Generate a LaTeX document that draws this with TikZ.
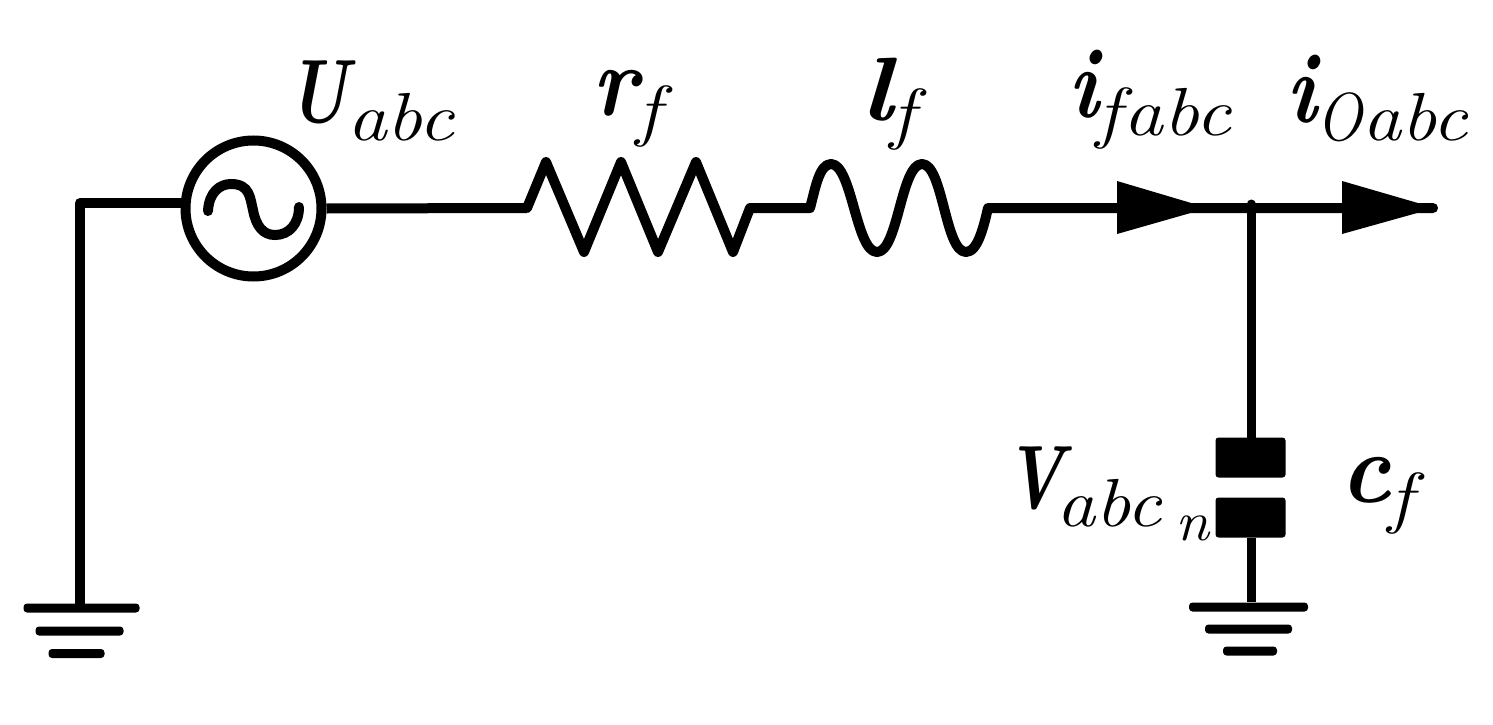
\documentclass[tikz,border=0pt]{standalone}
\usepackage{graphicx}
\usepackage{fontspec}
\newcommand{\lcap}[1]{\scalebox{.77}[1]{\fontsize{90}{90}\selectfont\bfseries\itshape #1}}
\newcommand{\llow}[2]{\scalebox{#1}[1]{\fontsize{100}{100}\selectfont\bfseries\itshape #2}}
\newcommand{\lsub}[3]{\raisebox{#2}{\scalebox{#1}[1]{\fontsize{68}{68}\selectfont\itshape #3}}}
\tikzset{
  wire/.style={line width=10pt,line cap=round,line join=round},
  lab/.style={inner sep=0pt,outer sep=0pt,anchor=base west},
  bar/.style={fill=black,rounded corners=3.5pt,inner sep=0pt,minimum height=9pt},
  plate/.style={fill=black,rounded corners=3pt,inner sep=0pt,minimum width=70pt,minimum height=40pt},
  tri/.style={fill=black}
}
\begin{document}
\begin{tikzpicture}[x=1pt,y=-1pt]
\useasboundingbox (0,0) rectangle (1493,725);
% coordinates
\coordinate (gl) at (80,203);
\coordinate (r0) at (527,208);
\coordinate (r7) at (750,208);
\coordinate (l0) at (810,208);
\coordinate (l5) at (988,208);
\coordinate (jt) at (1251,204);
\coordinate (e) at (1433,208);
% source
\node[circle,draw,line width=10pt,inner sep=0pt,minimum size=136pt] (src) at (253.5,208.5) {};
\draw[line width=10pt,line cap=round] (208,211) .. controls (209,192) and (220,184) .. (231,184) .. controls (250,184) and (250,198) .. (253,210) .. controls (256,226) and (263,235) .. (275,235) .. controls (289,235) and (299,224) .. (299,207);
% grounds
\node[bar,minimum width=116pt] (g1a) at (81.5,608) {};
\node[bar,minimum width=88pt] (g1b) at (79.5,631) {};
\node[bar,minimum width=56pt] (g1c) at (76.5,653.5) {};
\node[bar,minimum width=119pt] (g2a) at (1248.5,607) {};
\node[bar,minimum width=87pt] (g2b) at (1248.5,629) {};
\node[bar,minimum width=54pt] (g2c) at (1250,651) {};
% capacitor
\node[plate] (p1) at (1250.5,457.5) {};
\node[plate] (p2) at (1250.5,517.5) {};
% wires
\draw[wire] (g1a.north -| gl) -- (gl) -- (gl -| src.west);
\draw[wire,line cap=butt] (src.east) -- (r0);
\draw[wire] (r0) -- (546,162) -- (584,252) -- (621,162) -- (658,252) -- (696,162) -- (733,252) -- (r7) -- (l0);
\draw[wire] (l0) .. controls (815,190) and (819,164) .. (831,164) .. controls (852,164) and (856,252) .. (877,252) .. controls (898,252) and (901,164) .. (922,164) .. controls (943,164) and (945,252) .. (966,252) .. controls (978,252) and (984,225) .. (l5) -- (e);
\draw[line width=9pt,line cap=round] (jt) -- (p1.north -| jt);
\draw[line width=9pt] (p2.south -| jt) -- (g2a.north -| jt);
% arrowheads
\fill[tri] (1117,181) -- (1208,208) -- (1117,234) -- cycle;
\fill[tri] (1342,181) -- (1435,208) -- (1342,234) -- cycle;
% labels
\node[lab] (tU) at (287,122) {\lcap{U}\hspace{-1pt}\lsub{1.17}{-18pt}{abc}};
\node[lab] (tr) at (592,115) {\llow{.9}{r}\hspace{-1pt}\lsub{1.2}{-18pt}{f}};
\node[lab] (tl) at (860,120) {\scalebox{1.2}[1]{\fontsize{90}{90}\selectfont\bfseries\itshape l}\hspace{-2pt}\lsub{1.2}{-16pt}{f}};
\node[lab] (tif) at (1068,117) {\llow{.85}{i}\hspace{-2pt}\lsub{1.2}{-18pt}{f}\hspace{3pt}\lsub{1.17}{-18pt}{abc}};
\node[lab] (tio) at (1286,122) {\llow{.85}{i}\hspace{0pt}\lsub{.9}{-18pt}{O}\hspace{0pt}\lsub{1.15}{-18pt}{abc}};
\node[lab] (tV) at (1004,508) {\lcap{V}\hspace{-8pt}\lsub{1.15}{-18pt}{abc}\hspace{14pt}\raisebox{-32pt}{\scalebox{1.1}[1]{\fontsize{56}{56}\selectfont\itshape n}}};
\node[lab] (tc) at (1340,502) {\llow{.95}{c}\hspace{-2pt}\lsub{1.2}{-18pt}{f}};
\end{tikzpicture}
\end{document}
